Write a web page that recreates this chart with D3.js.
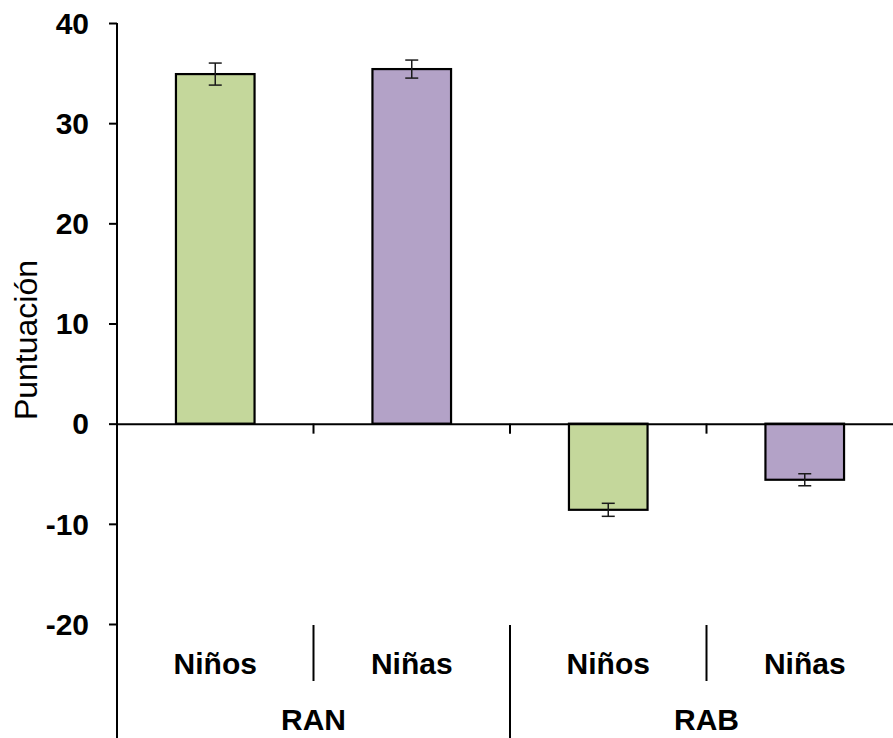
<!DOCTYPE html>
<html><head><meta charset="utf-8">
<script src="https://cdn.jsdelivr.net/npm/d3@7"></script>
<style>html,body{margin:0;padding:0;background:#fff;overflow:hidden}</style>
</head><body>
<svg id="c" width="893" height="738"></svg>
<script>
const groups = ["RAN", "RAB"];
const subgroups = ["Niños", "Niñas"];
const categories = ["RAN-Niños", "RAN-Niñas", "RAB-Niños", "RAB-Niñas"];
const values = [34.9, 35.4, -8.6, -5.6];
const errors = [1.1, 0.9, 0.65, 0.6];
const colors = ["#c4d79b", "#b3a2c7", "#c4d79b", "#b3a2c7"];
const yTicks = [-20, -10, 0, 10, 20, 30, 40];

const svg = d3.select("#c");
const x = d3.scaleBand().domain(categories).range([117, 903]).paddingInner(0).paddingOuter(0);
const y = d3.scaleLinear().domain([-20, 40]).range([624, 23]);
const barW = x.bandwidth() * 0.4;
const font = "Arial, 'Liberation Sans', sans-serif";

// bars
svg.selectAll("rect.bar").data(values).enter().append("rect")
  .attr("class", "bar")
  .attr("x", (d, i) => x(categories[i]) + x.bandwidth() / 2 - barW / 2)
  .attr("y", d => y(Math.max(0, d)))
  .attr("width", barW)
  .attr("height", d => Math.abs(y(d) - y(0)))
  .attr("fill", (d, i) => colors[i])
  .attr("stroke", "#000").attr("stroke-width", 2.2);

// error bars
const eb = svg.append("g").attr("stroke", "#1a1a1a").attr("stroke-width", 1.5);
values.forEach((v, i) => {
  const cx = x(categories[i]) + x.bandwidth() / 2;
  eb.append("line").attr("x1", cx).attr("x2", cx).attr("y1", y(v + errors[i])).attr("y2", y(v - errors[i]));
  [v + errors[i], v - errors[i]].forEach(e => {
    eb.append("line").attr("x1", cx - 6.5).attr("x2", cx + 6.5).attr("y1", y(e)).attr("y2", y(e));
  });
});

// y axis
const yAxis = d3.axisLeft(y).tickValues(yTicks).tickSize(8).tickPadding(20).tickFormat(d => String(d));
const ga = svg.append("g").attr("transform", "translate(117,0)").call(yAxis);
ga.select(".domain").remove();
ga.selectAll(".tick line").attr("stroke", "#000").attr("stroke-width", 2);
ga.selectAll(".tick text").attr("font-family", font).attr("font-size", 30).attr("font-weight", "bold").attr("fill", "#000").attr("dy", "0.34em");
svg.append("line").attr("x1", 117).attr("x2", 117).attr("y1", y(40)).attr("y2", 738).attr("stroke", "#000").attr("stroke-width", 2);

// x axis at zero
const xAxis = d3.axisBottom(x).tickSize(0).tickFormat("");
const gx = svg.append("g").attr("transform", `translate(0,${y(0)})`).call(xAxis);
gx.select(".domain").attr("stroke", "#000").attr("stroke-width", 2);
categories.slice(1).forEach(c => {
  svg.append("line").attr("x1", x(c)).attr("x2", x(c)).attr("y1", y(0)).attr("y2", y(0) + 10).attr("stroke", "#000").attr("stroke-width", 2);
});

// category labels
categories.forEach((c, i) => {
  svg.append("text").attr("x", x(c) + x.bandwidth() / 2).attr("y", 674)
    .attr("text-anchor", "middle").attr("font-family", font).attr("font-size", 30).attr("font-weight", "bold")
    .text(subgroups[i % 2]);
});
// inner separators
[1, 3].forEach(i => {
  svg.append("line").attr("x1", x(categories[i])).attr("x2", x(categories[i])).attr("y1", 625).attr("y2", 681).attr("stroke", "#000").attr("stroke-width", 2);
});
// group labels
groups.forEach((g, gi) => {
  const x0 = x(categories[gi * 2]);
  const x1 = x(categories[gi * 2 + 1]) + x.bandwidth();
  svg.append("text").attr("x", (x0 + x1) / 2).attr("y", 730)
    .attr("text-anchor", "middle").attr("font-family", font).attr("font-size", 30).attr("font-weight", "bold")
    .text(g);
});
svg.append("line").attr("x1", x(categories[2])).attr("x2", x(categories[2])).attr("y1", 625).attr("y2", 738).attr("stroke", "#000").attr("stroke-width", 2);

// y title
svg.append("text").attr("transform", "translate(37,340) rotate(-90)")
  .attr("text-anchor", "middle").attr("font-family", font).attr("font-size", 32)
  .text("Puntuación");
</script>
</body></html>
